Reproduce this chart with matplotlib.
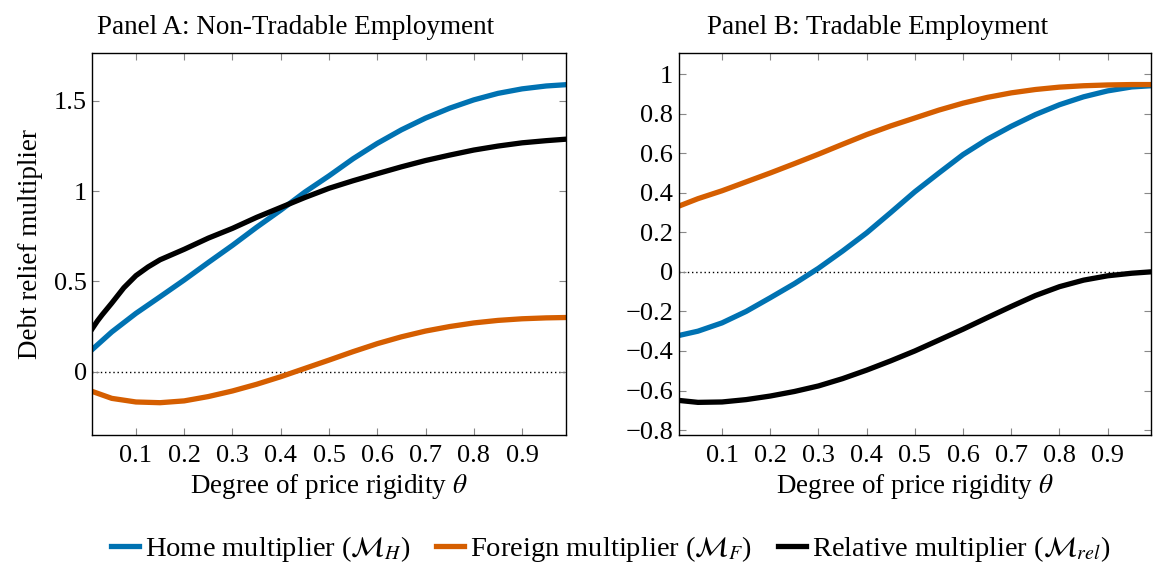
import numpy as np
import matplotlib.pyplot as plt
from matplotlib.ticker import FuncFormatter

plt.rcParams['font.family'] = ['Liberation Serif', 'DejaVu Serif']
plt.rcParams['mathtext.fontset'] = 'stix'

# [Data]_______________________________________________________________________

theta = [0.01, 0.05, 0.10, 0.15, 0.20, 0.25, 0.30, 0.35, 0.40, 0.45, 0.50,
         0.55, 0.60, 0.65, 0.70, 0.75, 0.80, 0.85, 0.90, 0.95, 0.99]
theta_rel_nt = [0.01, 0.02, 0.03, 0.05, 0.075, 0.10, 0.125] + theta[3:]

# Panel A: non-tradable employment
home_nt = [0.124, 0.22, 0.323, 0.415, 0.508, 0.605, 0.70, 0.80, 0.895, 0.995, 1.085,
           1.18, 1.265, 1.34, 1.405, 1.46, 1.506, 1.542, 1.567, 1.583, 1.59]
foreign_nt = [-0.11, -0.148, -0.168, -0.172, -0.162, -0.138, -0.107, -0.07, -0.028, 0.018, 0.064,
              0.111, 0.155, 0.193, 0.225, 0.25, 0.27, 0.284, 0.293, 0.298, 0.30]
relative_nt = [0.24, 0.28, 0.315, 0.38, 0.465, 0.532, 0.58, 0.62, 0.678, 0.74, 0.794, 0.855, 0.91,
               0.965, 1.016, 1.058, 1.097, 1.135, 1.17, 1.20, 1.228, 1.25, 1.268, 1.28, 1.288]

# Panel B: tradable employment
home_t = [-0.322, -0.30, -0.258, -0.20, -0.131, -0.06, 0.018, 0.105, 0.197, 0.30, 0.405,
          0.50, 0.593, 0.67, 0.736, 0.795, 0.845, 0.885, 0.915, 0.935, 0.941]
foreign_t = [0.332, 0.37, 0.41, 0.455, 0.50, 0.547, 0.595, 0.645, 0.694, 0.738, 0.778,
             0.818, 0.853, 0.882, 0.905, 0.922, 0.934, 0.941, 0.945, 0.947, 0.947]
relative_t = [-0.65, -0.66, -0.658, -0.646, -0.628, -0.605, -0.577, -0.54, -0.497, -0.45, -0.40,
              -0.345, -0.29, -0.232, -0.175, -0.12, -0.075, -0.042, -0.02, -0.007, 0.0]

xticks = [0.1, 0.2, 0.3, 0.4, 0.5, 0.6, 0.7, 0.8, 0.9]
yticks_a = [0, 0.5, 1, 1.5]
yticks_b = [-0.8, -0.6, -0.4, -0.2, 0, 0.2, 0.4, 0.6, 0.8, 1]

BLUE = '#0072b2'
ORANGE = '#d55e00'
LW = 3.8
FS = 19

fig = plt.figure(figsize=(11.56, 5.69), dpi=100)
ax_a = fig.add_axes([0.0800, 0.2355, 0.4092, 0.6708])
ax_b = fig.add_axes([0.5871, 0.2355, 0.4086, 0.6708])


def style_axes(ax, yticks, ylim, title, title_x):
    ax.axhline(0, color='black', lw=1.0, ls=(0, (1, 2)), zorder=1)
    ax.set_xlim(0.01, 0.99)
    ax.set_ylim(*ylim)
    ax.set_xticks(xticks)
    ax.set_yticks(yticks)
    fmt = FuncFormatter(lambda v, pos: '%g' % v if v >= 0 else '\u2212%g' % -v)
    ax.xaxis.set_major_formatter(fmt)
    ax.yaxis.set_major_formatter(fmt)
    ax.tick_params(direction='in', top=True, right=True, length=5, width=0.8,
                   color='#888888', labelsize=FS)
    ax.tick_params(axis='x', pad=7)
    ax.tick_params(axis='y', pad=4)
    for s in ax.spines.values():
        s.set_linewidth(1.0)
    ax.set_xlabel(r'Degree of price rigidity $\theta$', fontsize=FS + 0.5, labelpad=4)
    ax.set_title(title, fontsize=FS + 0.5, pad=14, x=title_x)


ax_a.plot(theta, home_nt, color=BLUE, lw=LW, label=r'Home multiplier ($\mathcal{M}_H$)')
ax_a.plot(theta, foreign_nt, color=ORANGE, lw=LW, label=r'Foreign multiplier ($\mathcal{M}_F$)')
ax_a.plot(theta_rel_nt, relative_nt, color='black', lw=LW,
          label=r'Relative multiplier ($\mathcal{M}_{rel}$)')
style_axes(ax_a, yticks_a, (-0.351, 1.764), 'Panel A: Non-Tradable Employment', 0.43)
ax_a.set_ylabel('Debt relief multiplier', fontsize=FS + 0.5, labelpad=8)

ax_b.plot(theta, home_t, color=BLUE, lw=LW)
ax_b.plot(theta, foreign_t, color=ORANGE, lw=LW)
ax_b.plot(theta, relative_t, color='black', lw=LW)
style_axes(ax_b, yticks_b, (-0.825, 1.105), 'Panel B: Tradable Employment', 0.422)

handles, labels = ax_a.get_legend_handles_labels()
fig.legend(handles, labels, loc='center', bbox_to_anchor=(0.528, 0.036), ncol=3,
           frameon=False, fontsize=20.5, handlelength=1.0, handletextpad=0.2,
           columnspacing=0.9)

fig.savefig('out.png', dpi=100)
